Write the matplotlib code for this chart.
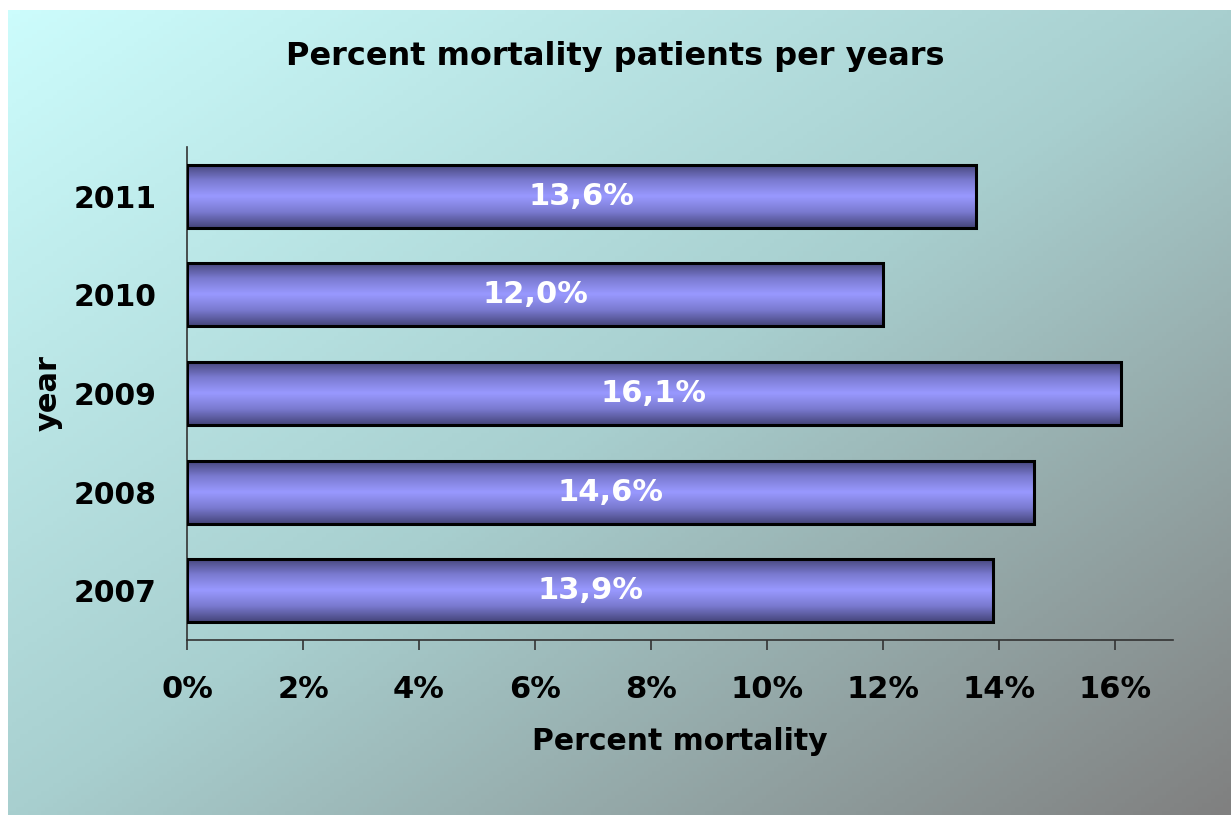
import numpy as np
import matplotlib
matplotlib.use("Agg")
import matplotlib.pyplot as plt
from matplotlib.colors import LinearSegmentedColormap

# data
years = ["2007", "2008", "2009", "2010", "2011"]
mortality = [13.9, 14.6, 16.1, 12.0, 13.6]
bar_labels = ["13,9%", "14,6%", "16,1%", "12,0%", "13,6%"]
xticks = [0, 2, 4, 6, 8, 10, 12, 14, 16]

fig = plt.figure(figsize=(12.31, 8.15), dpi=100)
fig.patch.set_facecolor("white")

# diagonal background gradient (cyan -> gray)
bg = fig.add_axes([8 / 1231, 0, 1 - 8 / 1231, 1 - 10 / 815], zorder=0)
bg_cmap = LinearSegmentedColormap.from_list(
    "bg", [(0, (204/255, 252/255, 252/255)),
           (0.5, (168/255, 207/255, 207/255)),
           (1, (128/255, 128/255, 128/255))])
gx, gy = np.meshgrid(np.linspace(0, 1, 300), np.linspace(0, 1, 200))
bg.imshow((gx + gy) / 2, cmap=bg_cmap, aspect="auto", extent=[0, 1, 1, 0])
bg.set_axis_off()

ax = fig.add_axes([187 / 1231, 1 - 640 / 815, (1173 - 187) / 1231, (640 - 147) / 815], zorder=1)
ax.set_facecolor("none")

y = np.arange(len(years))
bars = ax.barh(y, mortality, height=0.64, color="none", edgecolor="black", linewidth=2.2, zorder=3)

# shaded bar fill
bar_cmap = LinearSegmentedColormap.from_list(
    "bar", ["#45457a", "#7a7ad0", "#9999ff", "#7a7ad0", "#45457a"])
grad = np.linspace(0, 1, 100).reshape(-1, 1)
for b in bars:
    x0, y0 = b.get_x(), b.get_y()
    im = ax.imshow(grad, cmap=bar_cmap, aspect="auto", zorder=2,
                   extent=[x0, x0 + b.get_width(), y0, y0 + b.get_height()])
    im.set_clip_path(b)

for yi, v, lab in zip(y, mortality, bar_labels):
    ax.text(v / 2, yi, lab, color="white", fontsize=22, fontweight="bold",
            ha="center", va="center", zorder=4, family="DejaVu Sans")

ax.set_xlim(0, 17)
ax.set_ylim(-0.5, len(years) - 0.5)
ax.set_xticks(xticks)
ax.set_xticklabels([f"{t}%" for t in xticks])
ax.set_yticks(y)
ax.set_yticklabels(years)

for s in ["top", "right"]:
    ax.spines[s].set_visible(False)
for s in ["left", "bottom"]:
    ax.spines[s].set_color("#333333")
    ax.spines[s].set_linewidth(1.2)

ax.tick_params(axis="x", length=7, width=1.2, color="#333333", pad=18,
               labelsize=22)
ax.tick_params(axis="y", length=0, pad=22, labelsize=21.5)
for lbl in ax.get_xticklabels() + ax.get_yticklabels():
    lbl.set_fontweight("bold")

fig.text(0.5, 1 - 57 / 815, "Percent mortality patients per years", ha="center", va="center",
         fontsize=23, fontweight="bold", family="DejaVu Sans")
fig.text(680 / 1231, 1 - 741 / 815, "Percent mortality", ha="center", va="center",
         fontsize=21.5, fontweight="bold", family="DejaVu Sans")
fig.text(48 / 1231, 1 - 393 / 815, "year", ha="center", va="center", rotation=90,
         fontsize=22, fontweight="bold", family="DejaVu Sans")

fig.savefig("out.png", dpi=100)
